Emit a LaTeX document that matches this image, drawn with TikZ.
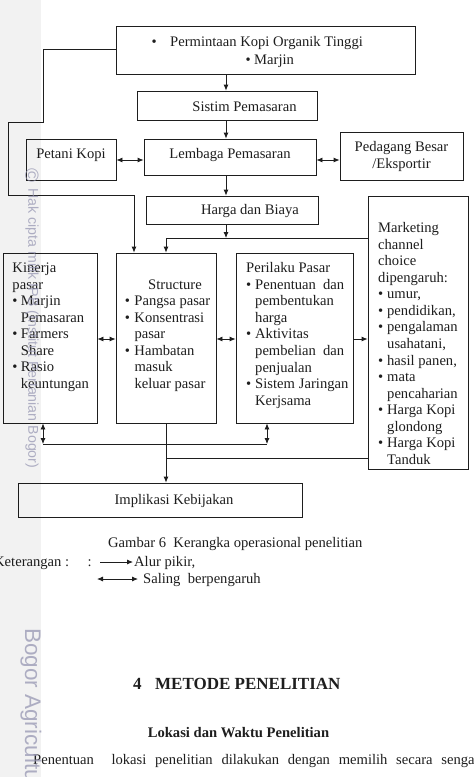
\documentclass[tikz,border=0pt]{standalone}
\usepackage{fontspec}
\setmainfont{Liberation Serif}
\newfontfamily\wmfont{Liberation Sans}
\usetikzlibrary{arrows.meta}
\newcommand\fs{\fontsize{14.6}{16.57}\selectfont}
\newcommand\bul[1]{\makebox[#1][l]{\textbullet}}
\definecolor{ink}{RGB}{30,30,30}
\definecolor{wmtext}{RGB}{150,150,178}
\tikzset{
  box/.style={draw=ink, line width=0.8pt, inner sep=0pt, rectangle},
  txt/.style={inner sep=0pt, font=\fs, text=ink},
  ln/.style={draw=ink, line width=0.8pt},
  arr/.style={ln, -{Latex[length=6pt,width=5pt]}},
  dbl/.style={ln, {Latex[length=6pt,width=5pt]}-{Latex[length=6pt,width=5pt]}},
}
\begin{document}
\begin{tikzpicture}[x=1pt,y=-1pt]
\useasboundingbox (0,0) rectangle (474,777);
\clip (0,0) rectangle (474,777);
\fill[white] (0,0) rectangle (474,777);

% boxes
\node[box, minimum width=299pt, minimum height=48pt] (top) at (265.5,50) {};
\node[box, minimum width=180pt, minimum height=29pt] (sis) at (227,105.5) {};
\node[box, minimum width=172pt, minimum height=36pt] (lem) at (230,157) {};
\node[box, minimum width=90pt, minimum height=41pt] (pet) at (71,159.5) {};
\node[box, minimum width=123pt, minimum height=48pt] (ped) at (401.5,156) {};
\node[box, minimum width=172pt, minimum height=28pt] (har) at (232,210) {};
\node[box, minimum width=100pt, minimum height=273pt] (mkt) at (418,332.5) {};
\node[box, minimum width=94pt, minimum height=170pt] (kin) at (50,338) {};
\node[box, minimum width=100pt, minimum height=170pt] (str) at (166,338) {};
\node[box, minimum width=117pt, minimum height=170pt] (per) at (294.5,338) {};
\node[box, minimum width=284pt, minimum height=34pt] (imp) at (160,500) {};

% texts
\node[txt, anchor=base west] (t1a) at (151.5,46.5) {\bul{18.5pt}Permintaan Kopi Organik Tinggi};
\node[txt, anchor=base west] (t1b) at (245.5,64.5) {\bul{8.5pt}Marjin};
\node[txt, anchor=base] (tsis) at (244.5,111) {Sistim Pemasaran};
\node[txt, anchor=base] (tlem) at (230,158.5) {Lembaga Pemasaran};
\node[txt, anchor=base] (tpet) at (71,158.5) {Petani Kopi};
\node[txt, anchor=base] (tped) at (401.5,151.5) {\begin{tabular}[t]{@{}c@{}}Pedagang Besar\\[0.9pt]/Eksportir\end{tabular}};
\node[txt, anchor=base] (thar) at (250,214) {Harga dan Biaya};
\node[txt, anchor=base] (timp) at (174,504) {Implikasi Kebijakan};

\node[txt, anchor=base west] (tkin) at (12.3,272.5) {\begin{tabular}[t]{@{}l@{}}
Kinerja\\
pasar\\
\bul{8.4pt}Marjin\\
\hspace*{8.4pt}Pemasaran\\
\bul{8.4pt}Farmers\\
\hspace*{8.4pt}Share\\
\bul{8.4pt}Rasio\\
\hspace*{8.4pt}keuntungan
\end{tabular}};

\node[txt, anchor=base] (tstr0) at (175,289) {Structure};
\node[txt, anchor=base west] (tstr) at (124.7,305.6) {\begin{tabular}[t]{@{}l@{}}
\bul{9.6pt}Pangsa pasar\\
\bul{9.6pt}Konsentrasi\\
\hspace*{9.6pt}pasar\\
\bul{9.6pt}Hambatan\\
\hspace*{9.6pt}masuk\\
\hspace*{9.6pt}keluar pasar
\end{tabular}};

\node[txt, anchor=base west] (tper) at (246,272.7) {\begin{tabular}[t]{@{}l@{}}
Perilaku Pasar\\
\bul{9pt}\hbox to 89pt{Penentuan\hfill dan}\\
\hspace*{9pt}pembentukan\\
\hspace*{9pt}harga\\
\bul{9pt}Aktivitas\\
\hspace*{9pt}\hbox to 89pt{pembelian\hfill dan}\\
\hspace*{9pt}penjualan\\
\bul{9pt}Sistem\hspace{4pt}Jaringan\\
\hspace*{9pt}Kerjsama
\end{tabular}};

\node[txt, anchor=base west] (tmkt) at (378,232.5) {\begin{tabular}[t]{@{}l@{}}
Marketing\\
channel\\
choice\\
dipengaruh:\\
\bul{9pt}umur,\\
\bul{9pt}pendidikan,\\
\bul{9pt}pengalaman\\
\hspace*{9pt}usahatani,\\
\bul{9pt}hasil panen,\\
\bul{9pt}mata\\
\hspace*{9pt}pencaharian\\
\bul{9pt}Harga Kopi\\
\hspace*{9pt}glondong\\
\bul{9pt}Harga Kopi\\
\hspace*{9pt}Tanduk
\end{tabular}};

% spine coordinates
\coordinate (sp) at (226,0);
\coordinate (hl) at (166,238);
\coordinate (fb1) at (43,122);
\coordinate (fb2) at (8,195);
\coordinate (sx1) at (134,0);
\coordinate (ry) at (0,339);
\coordinate (ay) at (0,160);
\coordinate (bl) at (43,444);
\coordinate (br) at (267,444);
\coordinate (sv) at (166,458);

% connectors
\draw[arr] (top.south -| sp) -- (sis.north -| sp);
\draw[arr] (sis.south -| sp) -- (lem.north -| sp);
\draw[arr] (lem.south -| sp) -- (har.north -| sp);
\draw[arr] (har.south -| sp) -- (hl -| sp);
\draw[dbl] (pet.east |- ay) -- (lem.west |- ay);
\draw[dbl] (lem.east |- ay) -- (ped.west |- ay);
\draw[arr] (top.west |- 0,49) -| (fb1) -| (fb2) -| (str.north -| sx1);
\draw[ln] (hl) -- (hl -| mkt.west);
\draw[arr] (hl) -- (str.north -| hl);
\draw[dbl] (kin.east |- ry) -- (str.west |- ry);
\draw[dbl] (str.east |- ry) -- (per.west |- ry);
\draw[arr] (per.east |- ry) -- (mkt.west |- ry);
\draw[dbl] (kin.south -| bl) -- (bl);
\draw[dbl] (per.south -| br) -- (br);
\draw[ln] (bl) -- (br);
\draw[arr] (str.south -| sv) -- (imp.north -| sv);
\draw[ln] (sv) -- (sv -| mkt.west);

% caption and legend
\node[txt, anchor=base west] (cap) at (108,547) {Gambar 6\ \ Kerangka operasional penelitian};
\node[txt, anchor=base west] (ket) at (-6,566.5) {Keterangan :};
\node[txt, anchor=base west] (ket2) at (87.5,566.5) {:};
\coordinate (la1) at (100,562);
\coordinate (la2) at (133,562);
\coordinate (lb1) at (97,579);
\coordinate (lb2) at (138,579);
\draw[arr] (la1) -- (la2);
\draw[dbl] (lb1) -- (lb2);
\node[txt, anchor=base west] (alur) at (134,566.5) {Alur pikir,};
\node[txt, anchor=base west] (sal) at (143,583.5) {Saling\ \ berpengaruh};

% page text
\node[inner sep=0pt, anchor=base west, font=\fontsize{17}{20}\selectfont\bfseries, text=ink] (head) at (133,689.6) {\makebox[22pt][l]{4}METODE PENELITIAN};
\node[inner sep=0pt, anchor=base, font=\fs\bfseries, text=ink] (sub) at (238.5,737) {Lokasi dan Waktu Penelitian};
\node[txt, anchor=base west] (para) at (33,764) {\hbox to 452pt{Penentuan\hfill\hfill lokasi\hfill penelitian\hfill dilakukan\hfill dengan\hfill memilih\hfill secara\hfill sengaja}};

% watermark strip
\fill[black, opacity=0.05] (0,0) rectangle (41,777);
\node[inner sep=0pt, rotate=-90, anchor=center, text=wmtext, opacity=0.75, font=\wmfont\fontsize{19}{19}\selectfont] (wmc) at (32,175) {©};
\node[inner sep=0pt, rotate=-90, anchor=west, text=wmtext, opacity=0.75, font=\wmfont\fontsize{14.2}{16}\selectfont] (wm1) at (32,188) {Hak cipta milik IPB (Institut Pertanian Bogor)};
\node[inner sep=0pt, rotate=-90, anchor=west, text=wmtext, opacity=0.75, font=\wmfont\fontsize{22.5}{24}\selectfont] (wm2) at (31,628) {Bogor Agricultural University};
\end{tikzpicture}
\end{document}
